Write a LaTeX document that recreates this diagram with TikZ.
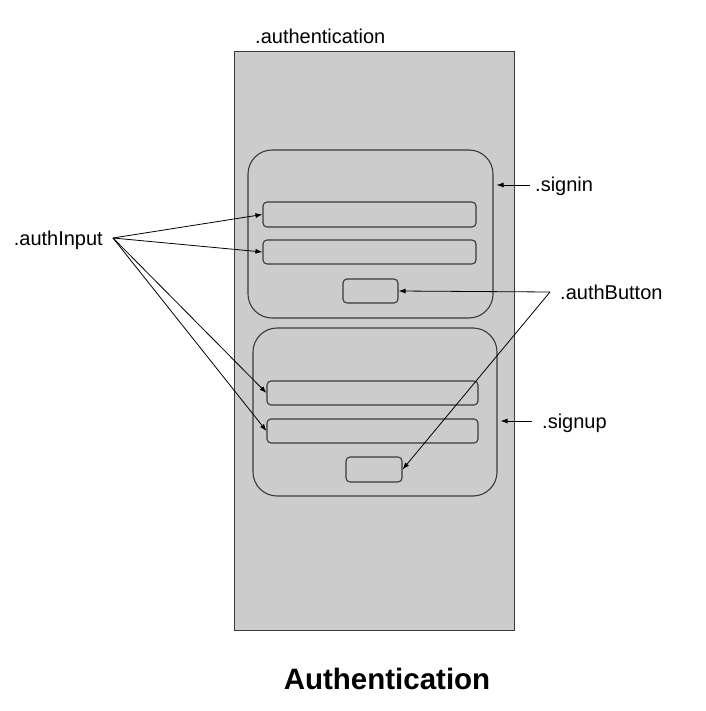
\documentclass[tikz,border=0pt]{standalone}
\usepackage{fontspec}
\setmainfont{Liberation Sans}
\definecolor{panelGray}{HTML}{CCCCCC}
\definecolor{edgeGray}{HTML}{3A3A3A}
\usetikzlibrary{positioning, arrows.meta}

\begin{document}
\begin{tikzpicture}[x=1pt, y=-1pt,
      panel/.style={draw=edgeGray, fill=panelGray, inner sep=0pt, line width=1pt},
      group/.style={draw=edgeGray, rounded corners=24pt, inner sep=0pt, line width=1.1pt},
      field/.style={draw=edgeGray, rounded corners=4pt, inner sep=0pt, line width=1.1pt},
      tag/.style={font=\fontsize{20}{24}\selectfont, inner xsep=10pt, inner ysep=0pt,
                  text height=14pt, text depth=0pt},
      arr/.style={-{Latex[length=7pt, width=5pt]}, line width=0.8pt}]
    \useasboundingbox (0,0) rectangle (705,711);
    % outer container
    \node[panel, minimum width=280pt, minimum height=578pt] (auth) at (374,341) {};
    \node[tag, anchor=west] (authLbl) at (245,37) {.authentication};
    % sign in group
    \node[group, minimum width=245pt, minimum height=168pt] (signin) at (370.5,234) {};
    \node[field, minimum width=213pt, minimum height=25pt] (in1) at (369.5,214.5) {};
    \node[field, minimum width=213pt, minimum height=24pt] (in2) at (369.5,252) {};
    \node[field, minimum width=55pt, minimum height=24pt] (btn1) at (370.5,291) {};
    % sign up group
    \node[group, minimum width=244pt, minimum height=168pt] (signup) at (375,412) {};
    \node[field, minimum width=211pt, minimum height=24pt] (in3) at (372.5,393) {};
    \node[field, minimum width=211pt, minimum height=24pt] (in4) at (372.5,431) {};
    \node[field, minimum width=56pt, minimum height=25pt] (btn2) at (374,469.5) {};
    % labels
    \node[tag, anchor=west, inner xsep=5pt] (signinLbl) at (530,185) {.signin};
    \node[tag, anchor=west] (signupLbl) at (532,421) {.signup};
    \node[tag, anchor=west] (buttonLbl) at (550,292) {.authButton};
    \node[tag, anchor=east] (inputLbl) at (113,238) {.authInput};
    % pointers
    \draw[arr, shorten >=3pt] (signinLbl.west) -- (signinLbl.west -| signin.east);
    \draw[arr, shorten >=3pt] (signupLbl.west) -- (signupLbl.west -| signup.east);
    \foreach \f in {in1, in2, in3, in4}
      \draw[arr] (inputLbl.east) -- (\f.west);
    \draw[arr] (buttonLbl.west) -- (btn1.east);
    \draw[arr] (buttonLbl.west) -- (btn2.east);
    \node[font=\fontsize{29.5}{34}\selectfont\bfseries] (title) at (387,679) {Authentication};
  \end{tikzpicture}
\end{document}
